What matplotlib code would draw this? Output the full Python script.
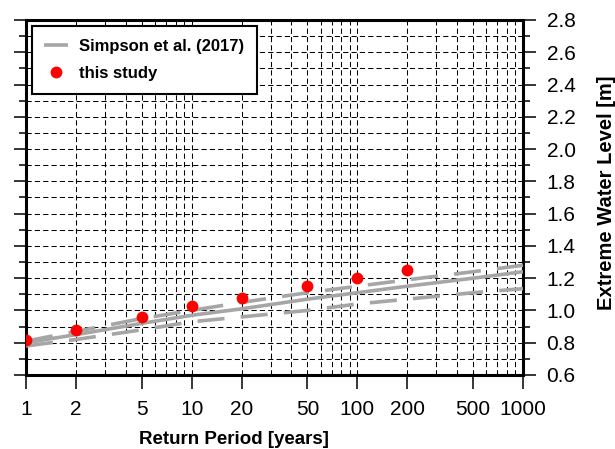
import numpy as np
import matplotlib
matplotlib.use("Agg")
import matplotlib.pyplot as plt
from matplotlib.ticker import LogLocator, MultipleLocator, NullFormatter

plt.rcParams['font.family'] = ['Liberation Sans', 'DejaVu Sans']

# return levels (Simpson et al. 2017): central estimate and bounds
return_period = [1, 2, 5, 10, 20, 50, 100, 200, 500, 1000]
simpson_mid = [0.80, 0.85, 0.92, 0.97, 1.01, 1.07, 1.11, 1.15, 1.20, 1.24]
simpson_upper = [0.81, 0.87, 0.95, 1.00, 1.05, 1.11, 1.15, 1.19, 1.24, 1.28]
simpson_lower = [0.78, 0.82, 0.88, 0.93, 0.96, 1.00, 1.04, 1.07, 1.11, 1.135]

# this study
study_period = [1, 2, 5, 10, 20, 50, 100, 200]
study_level = [0.82, 0.88, 0.96, 1.03, 1.08, 1.15, 1.20, 1.25]

xtick_vals = [1, 2, 5, 10, 20, 50, 100, 200, 500, 1000]
xtick_labels = ['1', '2', '5', '10', '20', '50', '100', '200', '500', '1000']

fig = plt.figure(figsize=(6.15, 4.49), dpi=100)
ax = fig.add_axes([26/615, 74/449, 497/615, 355/449])

grey = '#a6a6a6'
ax.plot(return_period, simpson_mid, color=grey, lw=2.6, solid_capstyle='butt',
        label='Simpson et al. (2017)', zorder=3)
ax.plot(return_period, simpson_upper, color=grey, lw=2.6, ls=(0, (7.5, 4.5)),
        dash_capstyle='butt', zorder=3)
ax.plot(return_period, simpson_lower, color=grey, lw=2.6, ls=(0, (7.5, 4.5)),
        dash_capstyle='butt', zorder=3)
ax.plot(study_period, study_level, 'o', color='red', ms=8.5, mec='none',
        label='this study', zorder=4)

ax.set_xscale('log')
ax.set_xlim(1, 1000)
ax.set_ylim(0.6, 2.8)

ax.set_xticks(xtick_vals)
ax.set_xticklabels(xtick_labels)
ax.xaxis.set_minor_locator(LogLocator(base=10, subs=np.arange(2, 10)))
ax.xaxis.set_minor_formatter(NullFormatter())
ax.yaxis.set_major_locator(MultipleLocator(0.2))
ax.yaxis.set_minor_locator(MultipleLocator(0.1))
ax.yaxis.set_major_formatter(plt.FuncFormatter(lambda v, p: f'{v:.1f}'))

ax.yaxis.set_ticks_position('both')
ax.tick_params(axis='y', which='both', labelleft=False, labelright=True,
               direction='out', width=1.1, labelsize=15, pad=8)
ax.tick_params(axis='y', which='major', length=9)
ax.tick_params(axis='y', which='minor', length=5)
ax.tick_params(axis='x', which='major', direction='out', length=10, width=1.1,
               labelsize=15, pad=8)
ax.tick_params(axis='x', which='minor', length=0)

ax.grid(which='both', color='black', lw=0.75, ls=(0, (5, 3)))
ax.set_axisbelow(True)

for s in ax.spines.values():
    s.set_linewidth(2.2)

ax.set_xlabel('Return Period [years]', fontsize=13.5, fontweight='bold')
ax.xaxis.set_label_coords(0.4185, -0.157)
ax.yaxis.set_label_position('right')
ax.set_ylabel('Extreme Water Level [m]', fontsize=14.5, fontweight='bold')
ax.yaxis.set_label_coords(1.149, 0.513)

leg = ax.legend(loc='upper left', bbox_to_anchor=(0.012, 0.983),
                borderaxespad=0, fancybox=False, framealpha=1,
                edgecolor='black', prop={'size': 12, 'weight': 'bold'},
                borderpad=0.75, handlelength=1.4, handletextpad=0.7,
                labelspacing=0.75, numpoints=1)
leg.get_frame().set_linewidth(1.5)

fig.savefig('out.png', dpi=100)
